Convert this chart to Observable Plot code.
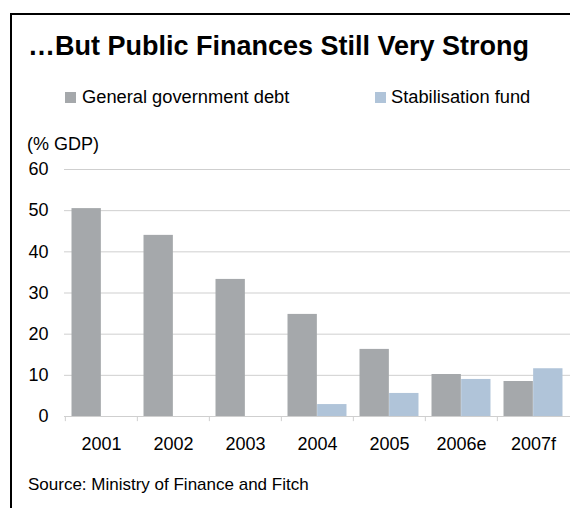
<!DOCTYPE html>
<html>
<head>
<meta charset="utf-8">
<script src="https://cdn.jsdelivr.net/npm/d3@7"></script>
<script src="https://cdn.jsdelivr.net/npm/@observablehq/plot@0.6"></script>
<style>
  body { margin: 0; background: #fff; font-family: "Liberation Sans", Arial, sans-serif; color: #000; }
  #wrap { position: relative; width: 570px; height: 508px; overflow: hidden; background: #fff; }
  #frame { position: absolute; left: 10px; top: 13px; width: 700px; height: 700px; border-top: 2px solid #000; border-left: 2px solid #000; }
  .t { position: absolute; white-space: nowrap; line-height: 1; }
  #title { left: 28px; top: 33px; font-size: 27px; font-weight: bold; }
  #unit { left: 27px; top: 135px; font-size: 18px; }
  #source { left: 28px; top: 476px; font-size: 17px; }
  .leg { position: absolute; top: 88px; font-size: 18.3px; line-height: 1; white-space: nowrap; }
  .sw { position: absolute; width: 11px; height: 11px; }
  #chart { position: absolute; left: 0; top: 150px; }
</style>
</head>
<body>
<div id="wrap">
  <div id="frame"></div>
  <div class="t" id="title"></div>
  <div id="legend"></div>
  <div class="t" id="unit"></div>
  <div id="chart"></div>
  <div class="t" id="source"></div>
</div>
<script>
const titleText = "…But Public Finances Still Very Strong";
const unitText = "(% GDP)";
const sourceText = "Source: Ministry of Finance and Fitch";
const years = ["2001", "2002", "2003", "2004", "2005", "2006e", "2007f"];
const seriesNames = ["General government debt", "Stabilisation fund"];
const debt = [50.5, 44.0, 33.3, 24.8, 16.3, 10.2, 8.5];
const fund = [null, null, null, 2.9, 5.6, 9.0, 11.6];
const yTicks = [0, 10, 20, 30, 40, 50, 60];
const colors = ["#a5a8ab", "#b0c4d9"];

document.getElementById("title").textContent = titleText;
document.getElementById("unit").textContent = unitText;
document.getElementById("source").textContent = sourceText;

const legend = document.getElementById("legend");
const legPos = [{sq: 65, tx: 82}, {sq: 375, tx: 391}];
seriesNames.forEach((name, i) => {
  const sw = document.createElement("div");
  sw.className = "sw";
  sw.style.left = legPos[i].sq + "px";
  sw.style.top = "92px";
  sw.style.background = colors[i];
  legend.appendChild(sw);
  const tx = document.createElement("div");
  tx.className = "leg";
  tx.style.left = legPos[i].tx + "px";
  tx.textContent = name;
  legend.appendChild(tx);
});

const debtData = years.map((y, i) => ({year: y, value: debt[i]}));
const fundData = years.map((y, i) => ({year: y, value: fund[i]})).filter(d => d.value != null);

const W = 570, mL = 64, mR = 0;
const step = (W - mL - mR) / years.length;
const gridColor = "#cfcfcf";

const plot = Plot.plot({
  width: W,
  height: 306,
  marginTop: 19,
  marginBottom: 40,
  marginLeft: mL,
  marginRight: mR,
  style: { fontSize: "18px", fontFamily: "'Liberation Sans', Arial, sans-serif", background: "transparent", color: "#000" },
  x: { domain: years, padding: 0, label: null },
  y: { domain: [0, 60], label: null },
  marks: [
    Plot.ruleY(yTicks.filter(d => d > 0), { stroke: gridColor, strokeWidth: 1 }),
    Plot.barY(debtData, { x: "year", y: "value", fill: colors[0], insetLeft: 0.09 * step, insetRight: 0.5 * step }),
    Plot.barY(fundData, { x: "year", y: "value", fill: colors[1], insetLeft: 0.5 * step, insetRight: 0.09 * step }),
    Plot.ruleY([0], { stroke: gridColor, strokeWidth: 1 }),
    Plot.ruleX(years, { x: d => d, y1: 0, y2: -1.25, dx: -step / 2, stroke: gridColor }),
    Plot.axisY({ ticks: yTicks, tickSize: 0, tickPadding: 16, label: null, fontSize: 18 }),
    Plot.axisX({ tickSize: 0, tickPadding: 21, label: null, fontSize: 18 })
  ]
});
document.getElementById("chart").appendChild(plot);
</script>
</body>
</html>
